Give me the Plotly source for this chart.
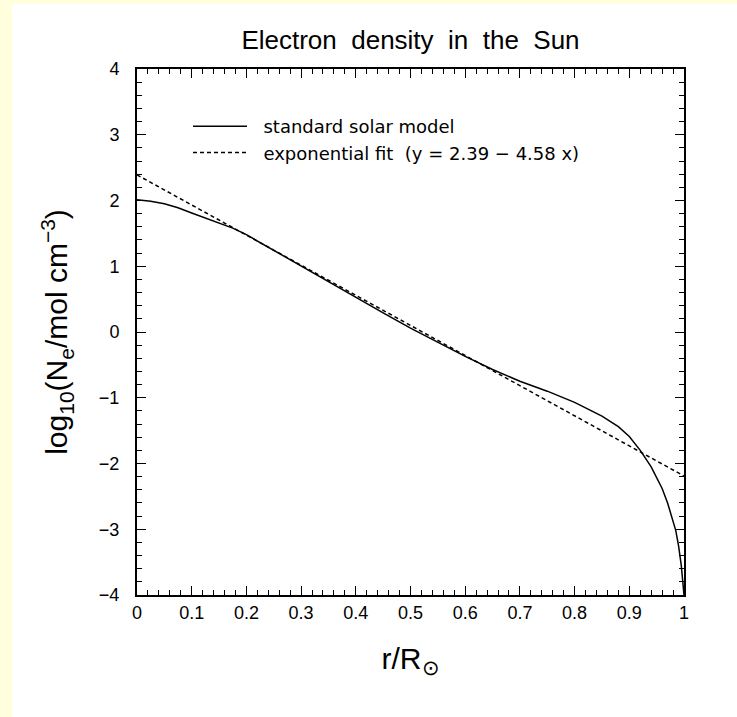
import plotly.graph_objects as go

# ---- data ----
ssm_r = [0.0, 0.025, 0.05, 0.075, 0.1, 0.125, 0.15, 0.175, 0.2, 0.25, 0.3, 0.35, 0.4,
         0.45, 0.5, 0.55, 0.6, 0.65, 0.7, 0.75, 0.8, 0.85, 0.88, 0.9, 0.92, 0.94,
         0.96, 0.97, 0.98, 0.985, 0.99, 0.995, 1.0]
ssm_logne = [2.01, 1.99, 1.95, 1.89, 1.81, 1.73, 1.66, 1.58, 1.48, 1.24, 1.00, 0.76, 0.52,
             0.29, 0.06, -0.16, -0.37, -0.57, -0.75, -0.90, -1.07, -1.28, -1.44, -1.59,
             -1.80, -2.05, -2.38, -2.60, -2.86, -3.02, -3.25, -3.55, -4.0]
fit_r = [0.0, 1.0]
fit_logne = [2.39, -2.19]

x_ticks = [0, 0.1, 0.2, 0.3, 0.4, 0.5, 0.6, 0.7, 0.8, 0.9, 1]
x_ticklabels = ["0", "0.1", "0.2", "0.3", "0.4", "0.5", "0.6", "0.7", "0.8", "0.9", "1"]
y_ticks = [-4, -3, -2, -1, 0, 1, 2, 3, 4]
y_ticklabels = ["\u22124", "\u22123", "\u22122", "\u22121", "0", "1", "2", "3", "4"]

W, H = 737, 717
ML, MR, MT, MB = 137, 53, 69, 122
FONT = "Liberation Sans"

fig = go.Figure()
fig.add_trace(go.Scatter(x=ssm_r, y=ssm_logne, mode="lines",
                         name="\u00a0\u00a0standard solar model",
                         line=dict(color="black", width=1.5)))
fig.add_trace(go.Scatter(x=fit_r, y=fit_logne, mode="lines",
                         name="\u00a0\u00a0exponential fit \u00a0(y = 2.39 \u2212 4.58 x)",
                         line=dict(color="black", width=1.5, dash="4px,3px")))

pw, ph = W - ML - MR, H - MT - MB
def px2paper_x(p):
    return (p - ML) / pw
def px2paper_y(p):
    return (H - MB - p) / ph

# white page on light-yellow background
fig.add_shape(type="rect", xref="paper", yref="paper", layer="below",
              x0=px2paper_x(12), x1=px2paper_x(W + 5), y0=px2paper_y(H + 5), y1=px2paper_y(4),
              fillcolor="white", line=dict(width=0))

axis_common = dict(showline=True, linecolor="black", linewidth=2, mirror="allticks",
                   ticks="inside", ticklen=9, tickwidth=1.4, tickcolor="black",
                   showgrid=False, zeroline=False,
                   tickfont=dict(family=FONT, size=18, color="black"))

fig.update_xaxes(range=[0, 1], tickvals=x_ticks, ticktext=x_ticklabels,
                 minor=dict(ticks="inside", ticklen=5, tickwidth=1.1, tickcolor="black", dtick=0.02),
                 ticklabelstandoff=0,
                 title=dict(text="r/R<sub>\u2299</sub>", font=dict(family=FONT, size=30, color="black"),
                            standoff=26),
                 **axis_common)
fig.update_yaxes(range=[-4, 4], tickvals=y_ticks, ticktext=y_ticklabels,
                 minor=dict(ticks="inside", ticklen=5, tickwidth=1.1, tickcolor="black", dtick=0.2),
                 ticklabelstandoff=12,
                 title=dict(text="log<sub>10</sub>(N<sub>e</sub>/mol cm<sup>\u22123</sup>)",
                            font=dict(family=FONT, size=30, color="black"), standoff=22),
                 **axis_common)

fig.update_layout(
    width=W, height=H,
    margin=dict(l=ML, r=MR, t=MT, b=MB),
    paper_bgcolor="#FFFFDD", plot_bgcolor="white",
    title=dict(text="Electron  density  in  the  Sun", x=(ML + pw / 2) / W, xanchor="center",
               y=1 - 40 / H, yanchor="middle",
               font=dict(family=FONT, size=26, color="black")),
    showlegend=True,
    legend=dict(x=px2paper_x(188), y=px2paper_y(108), xanchor="left", yanchor="top",
                bgcolor="rgba(0,0,0,0)", font=dict(family="DejaVu Sans", size=18, color="black"),
                itemwidth=54, tracegroupgap=0),
)

fig.write_html("out.html")
